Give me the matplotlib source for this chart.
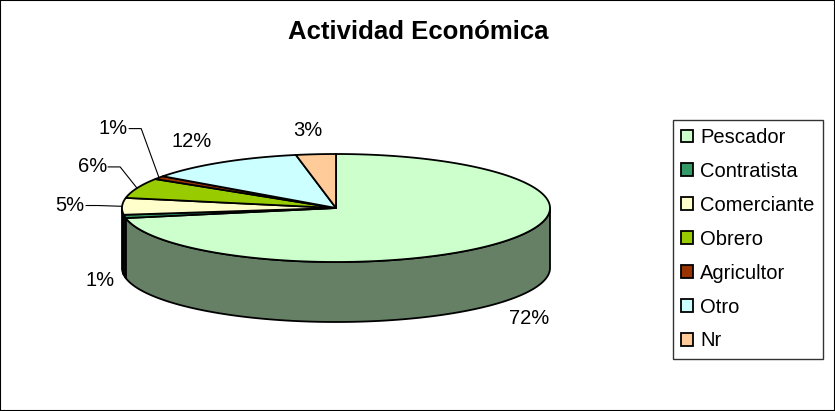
import numpy as np
import matplotlib.pyplot as plt
import matplotlib.colors as mcolors
from matplotlib.patches import Polygon, Patch, Rectangle

plt.rcParams['font.family'] = ['Liberation Sans', 'DejaVu Sans']

title = 'Actividad Económica'
categories = ['Pescador', 'Contratista', 'Comerciante', 'Obrero', 'Agricultor', 'Otro', 'Nr']
values = [72, 1, 5, 6, 1, 12, 3]
colors = ['#CCFFCC', '#339966', '#FFFFCC', '#99CC00', '#993300', '#CCFFFF', '#FFCC99']

# layout in pixels (screen coords, y down)
cx, cy = 336, 208
rx, ry = 214, 54
depth = 60
# small slices get pushed out with a leader line
leader_push = {2: (-22, 0), 3: (-17, -12), 4: (-21, -35)}
nudge = {0: (5, 0), 1: (5, 0), 5: (-14, 0), 6: (-5, 1)}

fig = plt.figure(figsize=(8.35, 4.11), dpi=100)
ax = fig.add_axes([0, 0, 1, 1])
ax.set_xlim(0, 835)
ax.set_ylim(411, 0)
ax.axis('off')


def ell(t, dz=0):
    return np.column_stack([cx + rx * np.cos(t), cy - ry * np.sin(t) + dz])


def shade(c, f=0.5):
    r, g, b = mcolors.to_rgb(c)
    return (r * f, g * f, b * f)


fr = np.array(values) / sum(values)
edges = np.pi / 2 - 2 * np.pi * np.concatenate([[0], np.cumsum(fr)])

# sides (front half only)
for i, c in enumerate(colors):
    a0, a1 = edges[i], edges[i + 1]
    lo, hi = max(a1, -np.pi), min(a0, 0)
    if lo < hi:
        t = np.linspace(lo, hi, 200)
        pts = np.vstack([ell(t), ell(t[::-1], depth)])
        ax.add_patch(Polygon(pts, closed=True, facecolor=shade(c), edgecolor='black',
                             lw=1.3, joinstyle='round'))

# tops
for i, c in enumerate(colors):
    t = np.linspace(edges[i], edges[i + 1], 300)
    pts = np.vstack([[[cx, cy]], ell(t)])
    ax.add_patch(Polygon(pts, closed=True, facecolor=c, edgecolor='black',
                         lw=1.3, joinstyle='round'))

# labels
for i, v in enumerate(values):
    m = (edges[i] + edges[i + 1]) / 2
    ax_pt = ell(np.array([m]))[0]
    lx = cx + (rx + 30) * np.cos(m)
    ly = cy - (ry + 25) * np.sin(m)
    if np.sin(m) < 0:
        ly += depth
    if i in nudge:
        lx += nudge[i][0]
        ly += nudge[i][1]
    if i in leader_push:
        dx, dy = leader_push[i]
        lx += dx
        ly += dy
        hw = 16
        ax.plot([lx + hw, lx + hw + 12, ax_pt[0]], [ly, ly, ax_pt[1]],
                color='black', lw=0.8)
    ax.text(lx, ly, f'{v}%', ha='center', va='center', fontsize=14.5)

ax.text(418, 32, title, ha='center', va='center', fontsize=18.5, fontweight='bold')

handles = [Patch(facecolor=c, edgecolor='black', linewidth=1.3) for c in colors]
leg = fig.legend(handles, categories, loc='upper left',
                 bbox_to_anchor=(673 / 835, 1 - 120 / 411), borderaxespad=0,
                 frameon=True, fancybox=False, edgecolor='black', fontsize=14.5,
                 handlelength=0.6, handleheight=0.6, handletextpad=0.35,
                 labelspacing=0.74, borderpad=0.4)
leg.get_frame().set_linewidth(1.0)

fig.patches.append(Rectangle((0, 0), 1, 1, transform=fig.transFigure, fill=False,
                             edgecolor='black', lw=1.5))

fig.savefig('out.png', dpi=100)
